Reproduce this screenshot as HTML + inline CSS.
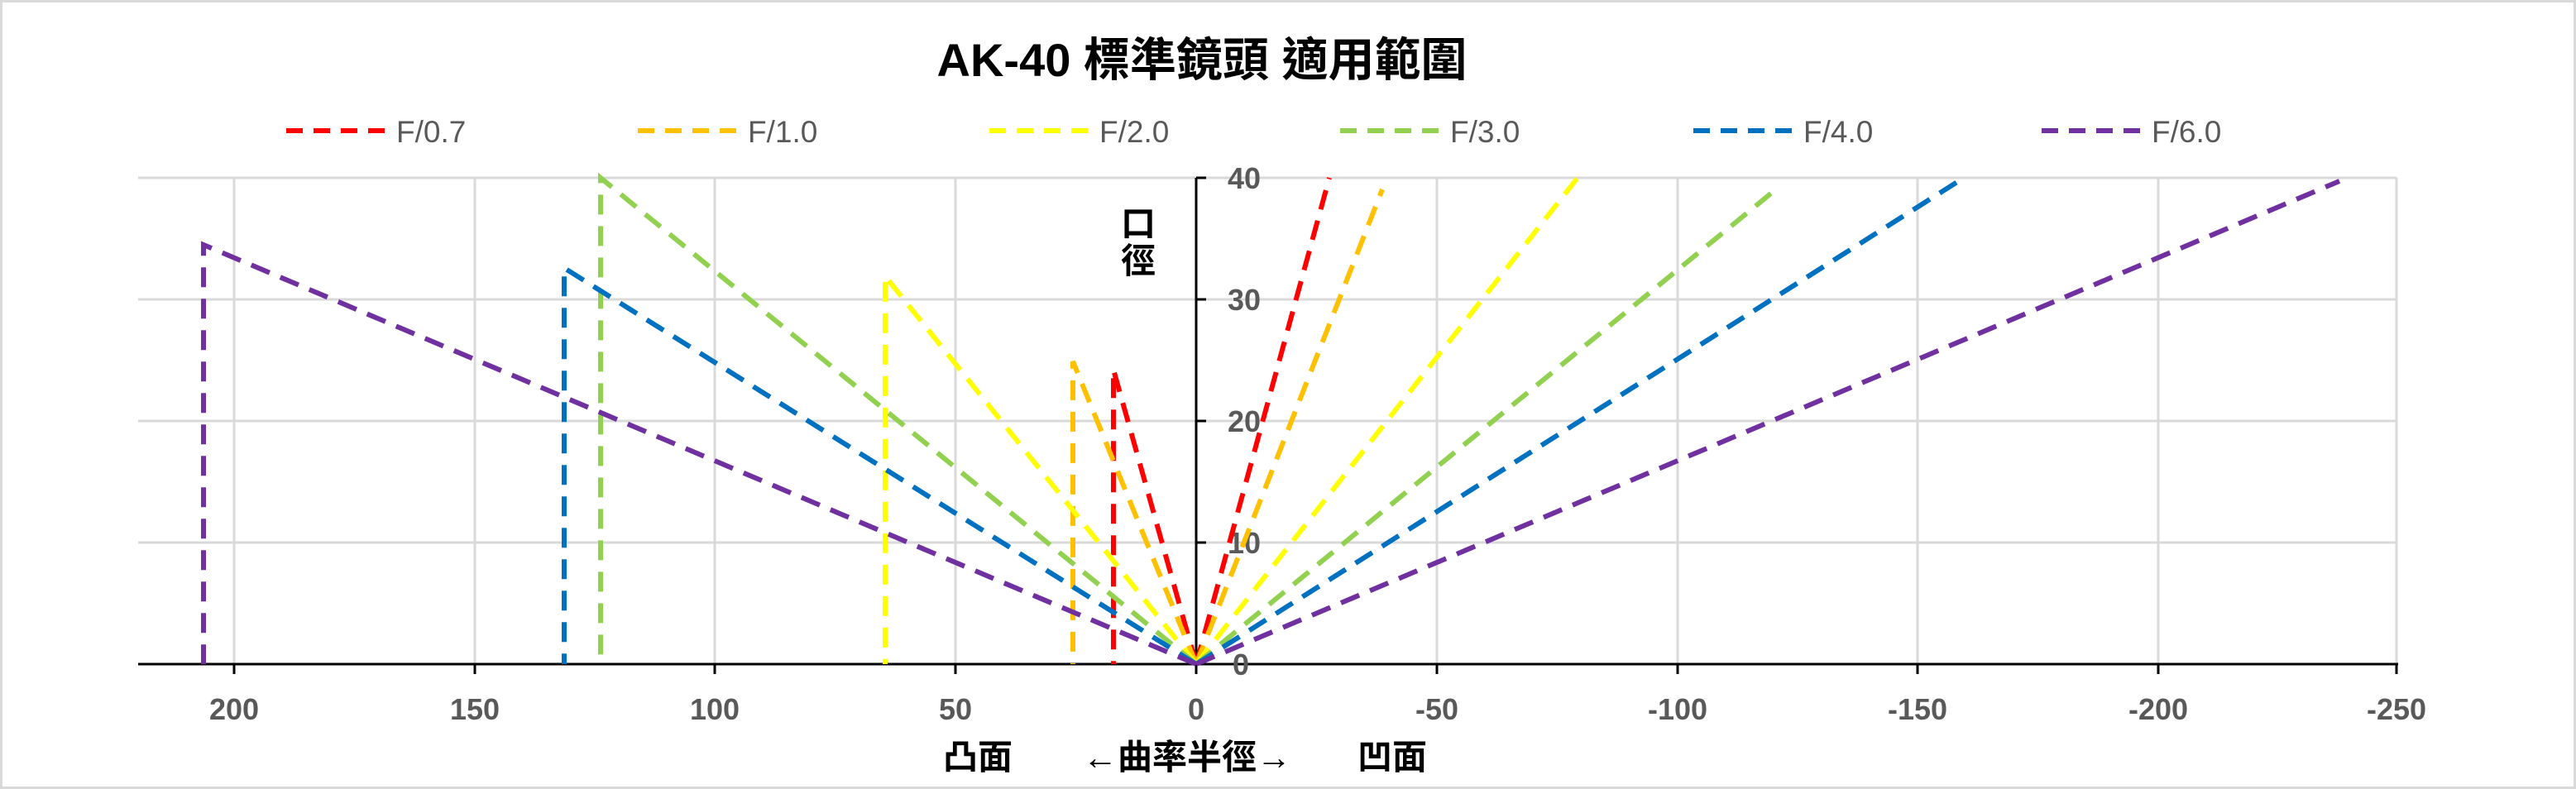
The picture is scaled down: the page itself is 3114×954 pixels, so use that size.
<!DOCTYPE html>
<html><head><meta charset="utf-8"><style>
html,body{margin:0;padding:0;background:#fff}
svg{display:block}
</style></head><body>
<svg width="3114" height="954" viewBox="0 0 3114 954" xmlns="http://www.w3.org/2000/svg">
<rect x="1.5" y="1.5" width="3111" height="951" fill="#fff" stroke="#d9d9d9" stroke-width="3"/>
<g stroke="#d9d9d9" stroke-width="3">
<line x1="167" y1="215" x2="2897" y2="215"/>
<line x1="167" y1="362" x2="2897" y2="362"/>
<line x1="167" y1="509" x2="2897" y2="509"/>
<line x1="167" y1="656" x2="2897" y2="656"/>
<line x1="283" y1="215" x2="283" y2="803"/>
<line x1="574" y1="215" x2="574" y2="803"/>
<line x1="864" y1="215" x2="864" y2="803"/>
<line x1="1155" y1="215" x2="1155" y2="803"/>
<line x1="1737" y1="215" x2="1737" y2="803"/>
<line x1="2028" y1="215" x2="2028" y2="803"/>
<line x1="2318" y1="215" x2="2318" y2="803"/>
<line x1="2609" y1="215" x2="2609" y2="803"/>
<line x1="2897" y1="215" x2="2897" y2="803"/>
</g>
<g stroke="#000" stroke-width="3">
<line x1="167" y1="803" x2="2899" y2="803"/>
<line x1="1446" y1="215" x2="1446" y2="803"/>
<line x1="1446" y1="215" x2="1458" y2="215"/>
<line x1="1446" y1="362" x2="1458" y2="362"/>
<line x1="1446" y1="509" x2="1458" y2="509"/>
<line x1="1446" y1="656" x2="1458" y2="656"/>
<line x1="283" y1="803" x2="283" y2="815"/>
<line x1="574" y1="803" x2="574" y2="815"/>
<line x1="864" y1="803" x2="864" y2="815"/>
<line x1="1155" y1="803" x2="1155" y2="815"/>
<line x1="1446" y1="803" x2="1446" y2="815"/>
<line x1="1737" y1="803" x2="1737" y2="815"/>
<line x1="2028" y1="803" x2="2028" y2="815"/>
<line x1="2318" y1="803" x2="2318" y2="815"/>
<line x1="2609" y1="803" x2="2609" y2="815"/>
<line x1="2897" y1="803" x2="2897" y2="815"/>
</g>
<g font-family="'Liberation Sans Narrow', 'Liberation Sans', sans-serif" font-size="36" font-weight="bold" fill="#595959" text-anchor="middle">
<text x="283" y="870">200</text><text x="574" y="870">150</text><text x="864" y="870">100</text>
<text x="1155" y="870">50</text><text x="1446" y="870">0</text><text x="1737" y="870">-50</text>
<text x="2028" y="870">-100</text><text x="2318" y="870">-150</text><text x="2609" y="870">-200</text><text x="2897" y="870">-250</text>
<text x="1504" y="228">40</text><text x="1504" y="375">30</text><text x="1504" y="522">20</text>
<text x="1504" y="669">10</text><text x="1500" y="816">0</text>
</g>
<g fill="none" stroke-width="6" stroke-dasharray="24 14">
<g stroke="#FF0000"><polyline points="1446,803 1346,447 1346,803"/><line x1="1446" y1="803" x2="1607" y2="215"/></g>
<g stroke="#FFC000"><polyline points="1446,803 1297,437 1297,803"/><line x1="1446" y1="803" x2="1671" y2="229"/></g>
<g stroke="#FFFF00"><polyline points="1446,803 1070,334 1070,803"/><line x1="1446" y1="803" x2="1907" y2="215"/></g>
<g stroke="#92D050"><polyline points="1446,803 726,215 726,803"/><line x1="1446" y1="803" x2="2148" y2="228"/></g>
<g stroke="#0070C0"><polyline points="1446,803 682,324 682,803"/><line x1="1446" y1="803" x2="2366" y2="220"/></g>
<g stroke="#7030A0"><polyline points="1446,803 246,296 246,803"/><line x1="1446" y1="803" x2="2828" y2="219"/></g>
</g>
<g stroke-width="6" stroke-dasharray="20 13">
<line x1="346" y1="158" x2="467" y2="158" stroke="#FF0000"/>
<line x1="771" y1="158" x2="892" y2="158" stroke="#FFC000"/>
<line x1="1196" y1="158" x2="1317" y2="158" stroke="#FFFF00"/>
<line x1="1620" y1="158" x2="1741" y2="158" stroke="#92D050"/>
<line x1="2047" y1="158" x2="2168" y2="158" stroke="#0070C0"/>
<line x1="2468" y1="158" x2="2589" y2="158" stroke="#7030A0"/>
</g>
<g font-family="'Liberation Sans Narrow', 'Liberation Sans', sans-serif" font-size="37" fill="#595959">
<text x="479" y="172">F/0.7</text><text x="904" y="172">F/1.0</text><text x="1329" y="172">F/2.0</text>
<text x="1753" y="172">F/3.0</text><text x="2180" y="172">F/4.0</text><text x="2601" y="172">F/6.0</text>
</g>
<text x="1453" y="92" text-anchor="middle" font-family="Liberation Sans, 'Noto Sans CJK TC', sans-serif" font-size="56" font-weight="bold" fill="#000">AK-40 標準鏡頭 適用範圍</text>
<g font-family="Liberation Sans, 'Noto Sans CJK TC', sans-serif" font-size="42" font-weight="bold" fill="#000" text-anchor="middle">
<text x="1376" y="285">口</text><text x="1376" y="330">徑</text>
<text x="1182" y="930">凸面</text>
<text x="1435" y="930">←曲率半徑→</text>
<text x="1683" y="930">凹面</text>
</g>
</svg>
</body></html>
